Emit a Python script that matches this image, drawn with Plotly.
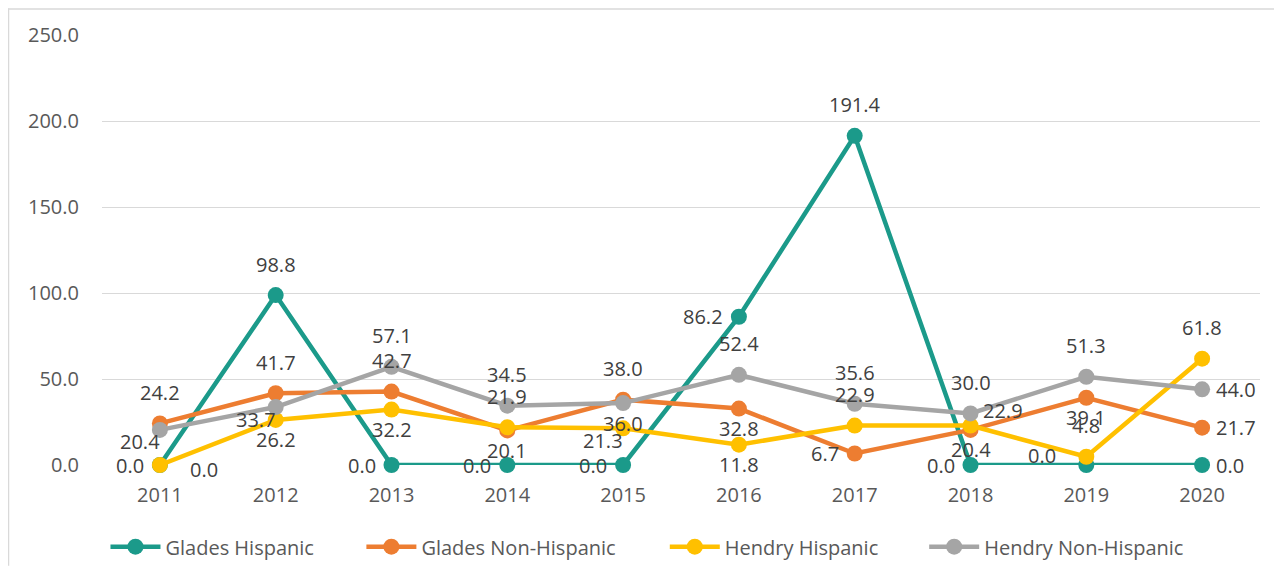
import plotly.graph_objects as go

years = ["2011", "2012", "2013", "2014", "2015", "2016", "2017", "2018", "2019", "2020"]

glades_hisp = [0.0, 98.8, 0.0, 0.0, 0.0, 86.2, 191.4, 0.0, 0.0, 0.0]
glades_non_hisp = [24.2, 41.7, 42.7, 20.1, 38.0, 32.8, 6.7, 20.4, 39.1, 21.7]
hendry_hisp = [0.0, 26.2, 32.2, 21.9, 21.3, 11.8, 22.9, 22.9, 4.8, 61.8]
hendry_non_hisp = [20.4, 33.7, 57.1, 34.5, 36.0, 52.4, 35.6, 30.0, 51.3, 44.0]

# where each data label sits relative to its point (t/b/l/r and combos)
pos_gh = ["l", "t", "l", "l", "l", "l", "t", "l", "lf", "r"]
pos_gnh = ["t", "t", "t", "b", "t", "b", "l", "b", "b", "r"]
pos_hh = ["rf", "b", "b", "t", "bl", "b", "t", "tr", "t", "t"]
pos_hnh = ["bl", "bl", "t", "t", "b", "t", "t", "t", "t", "r"]

# (xshift, yshift, xanchor)
offsets = {
    "t": (0, 31, "center"),
    "b": (0, -20, "center"),
    "l": (-14, 0, "right"),
    "lf": (-28, 10, "right"),
    "r": (12, 0, "left"),
    "rf": (28, -4, "left"),
    "bl": (-20, -12, "center"),
    "tr": (10, 15, "left"),
}

series = [
    ("Glades Hispanic", glades_hisp, "#1B9A8A", pos_gh),
    ("Glades Non-Hispanic", glades_non_hisp, "#ED7D31", pos_gnh),
    ("Hendry Hispanic", hendry_hisp, "#FFC000", pos_hh),
    ("Hendry Non-Hispanic", hendry_non_hisp, "#A5A5A5", pos_hnh),
]
legend_x = [0.003, 0.224, 0.486, 0.710]

font = "Open Sans"

fig = go.Figure()
annotations = []
legends = {}
for k, (name, vals, color, pos) in enumerate(series):
    lg = "legend" if k == 0 else f"legend{k + 1}"
    fig.add_trace(go.Scatter(
        x=years, y=vals, name=name,
        mode="lines+markers",
        line=dict(color=color, width=4.5),
        marker=dict(color=color, size=16),
        cliponaxis=False,
        legend=lg,
    ))
    legends[lg] = dict(orientation="h", x=legend_x[k], xanchor="left",
                       y=-0.19, yanchor="middle", itemwidth=50,
                       bgcolor="rgba(0,0,0,0)",
                       font=dict(family=font, size=20, color="#595959"))
    for i, (v, p) in enumerate(zip(vals, pos)):
        dx, dy, xa = offsets[p]
        annotations.append(dict(
            x=i, y=v, text=f"{v:.1f}", showarrow=False,
            xshift=dx, yshift=dy, xanchor=xa, yanchor="middle",
            font=dict(family=font, size=20, color="#404040"),
        ))

# the page adds an 8px body margin, so the figure is 16px smaller than the window
fig.update_layout(
    width=1266, height=570,
    margin=dict(l=94, r=14, t=27, b=103),
    paper_bgcolor="white", plot_bgcolor="white",
    showlegend=True,
    font=dict(family=font, size=20, color="#595959"),
    xaxis=dict(type="category", range=[-0.5, 9.5], showgrid=False, showline=False,
               ticks="", ticklabelstandoff=16,
               tickfont=dict(size=20, color="#595959")),
    yaxis=dict(range=[0, 250], dtick=50, tickformat=".1f", showgrid=True,
               gridcolor="#D9D9D9", gridwidth=1, zeroline=False, showline=False,
               ticks="", ticklabelstandoff=22,
               tickfont=dict(size=20, color="#595959")),
    annotations=annotations,
    shapes=[
        dict(type="line", xref="paper", yref="paper", x0=-93.5 / 1158, x1=-93.5 / 1158,
             y0=-103 / 440, y1=1 + 27 / 440, line=dict(color="#D9D9D9", width=1.5)),
        dict(type="line", xref="paper", yref="paper", x0=-94 / 1158, x1=1 + 14 / 1158,
             y0=1 + 26.5 / 440, y1=1 + 26.5 / 440, line=dict(color="#D9D9D9", width=1.5)),
    ],
    **legends,
)

fig.write_html("out.html")
